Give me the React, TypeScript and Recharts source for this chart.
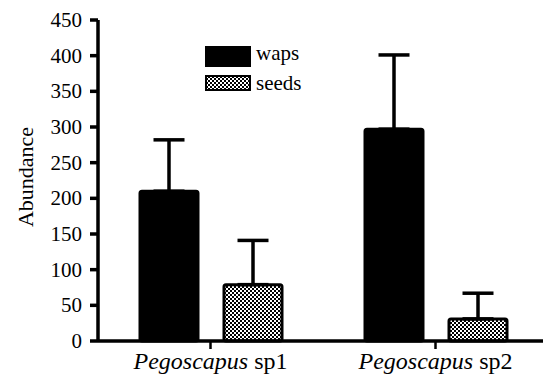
import React from "react"
import { BarChart, Bar, XAxis, YAxis, ErrorBar, Legend } from "recharts"

const categories = ["Pegoscapus sp1", "Pegoscapus sp2"]
const seriesNames = ["waps", "seeds"]
const wapsValues = [210, 297]
const wapsErrors = [72, 104]
const seedsValues = [79, 31]
const seedsErrors = [62, 36]
const yTicks = [0, 50, 100, 150, 200, 250, 300, 350, 400, 450]

const data = categories.map((name, i) => ({
  name,
  waps: wapsValues[i],
  wapsErr: [0, wapsErrors[i]],
  seeds: seedsValues[i],
  seedsErr: [0, seedsErrors[i]],
}))

const FONT = "Liberation Serif"
const serif = { fontFamily: FONT }

function CategoryTick({ x, y, payload }: any) {
  const label: string = payload.value
  const cut = label.lastIndexOf(" ")
  return (
    <text x={x} y={y} dy={18} textAnchor="middle" style={serif} fontSize={24} fill="#000">
      <tspan fontStyle="italic">{label.slice(0, cut)}</tspan>
      <tspan>{label.slice(cut)}</tspan>
    </text>
  )
}

function NumberTick({ x, y, payload }: any) {
  return (
    <text x={x} y={y} dy={7} textAnchor="end" style={serif} fontSize={21} fill="#000">
      {payload.value}
    </text>
  )
}

function ChartLegend() {
  const boxes = [
    { y: 47, h: 19 },
    { y: 76, h: 14 },
  ]
  return (
    <svg width={543} height={110} style={{ display: "block" }}>
      {seriesNames.map((name, i) => (
        <g key={name}>
          <rect
            x={206}
            y={boxes[i].y}
            width={44}
            height={boxes[i].h}
            fill={i === 0 ? "#000" : "url(#checker)"}
            stroke="#000"
            strokeWidth={2}
          />
          <text x={256} y={boxes[i].y + 13 + i} style={serif} fontSize={21} fill="#000">
            {name}
          </text>
        </g>
      ))}
    </svg>
  )
}

export default function App() {
  return (
    <div style={{ position: "absolute", left: 0, top: 0, width: 543, height: 377, overflow: "hidden", background: "#fff", fontFamily: FONT }}>
      <BarChart
        width={548}
        height={377}
        data={data}
        margin={{ top: 20, right: 0, left: 0, bottom: 0 }}
        barSize={58}
        barGap={26}
      >
        <defs>
          <pattern id="checker" width={4} height={4} patternUnits="userSpaceOnUse">
            <rect x={0} y={0} width={4} height={4} fill="#fff" />
            <rect x={0} y={0} width={2} height={2} fill="#000" />
            <rect x={2} y={2} width={2} height={2} fill="#000" />
          </pattern>
        </defs>
        <XAxis
          dataKey="name"
          height={36}
          tick={<CategoryTick />}
          tickSize={8}
          axisLine={{ stroke: "#000", strokeWidth: 3.5 }}
          tickLine={{ stroke: "#000", strokeWidth: 2.5 }}
        />
        <YAxis
          width={98}
          domain={[0, 450]}
          ticks={yTicks}
          interval={0}
          tickSize={8}
          tickMargin={8}
          tick={<NumberTick />}
          axisLine={{ stroke: "#000", strokeWidth: 3.5 }}
          tickLine={{ stroke: "#000", strokeWidth: 3.5 }}
          label={() => (
            <text
              x={33}
              y={177}
              transform="rotate(-90, 33, 177)"
              textAnchor="middle"
              style={serif}
              fontSize={22}
              fill="#000"
            >
              Abundance
            </text>
          )}
        />
        <Legend
          layout="horizontal"
          align="center"
          verticalAlign="middle"
          content={<ChartLegend />}
          wrapperStyle={{ left: 0, top: 0, width: 543, height: 110 }}
        />
        <Bar dataKey="waps" name="waps" fill="#000" stroke="#000" strokeWidth={3} radius={2} isAnimationActive={false}>
          <ErrorBar dataKey="wapsErr" width={15.5} stroke="#000" strokeWidth={3.5} direction="y" />
        </Bar>
        <Bar dataKey="seeds" name="seeds" fill="url(#checker)" stroke="#000" strokeWidth={3} radius={2} isAnimationActive={false}>
          <ErrorBar dataKey="seedsErr" width={15.5} stroke="#000" strokeWidth={3.5} direction="y" />
        </Bar>
      </BarChart>
    </div>
  )
}
